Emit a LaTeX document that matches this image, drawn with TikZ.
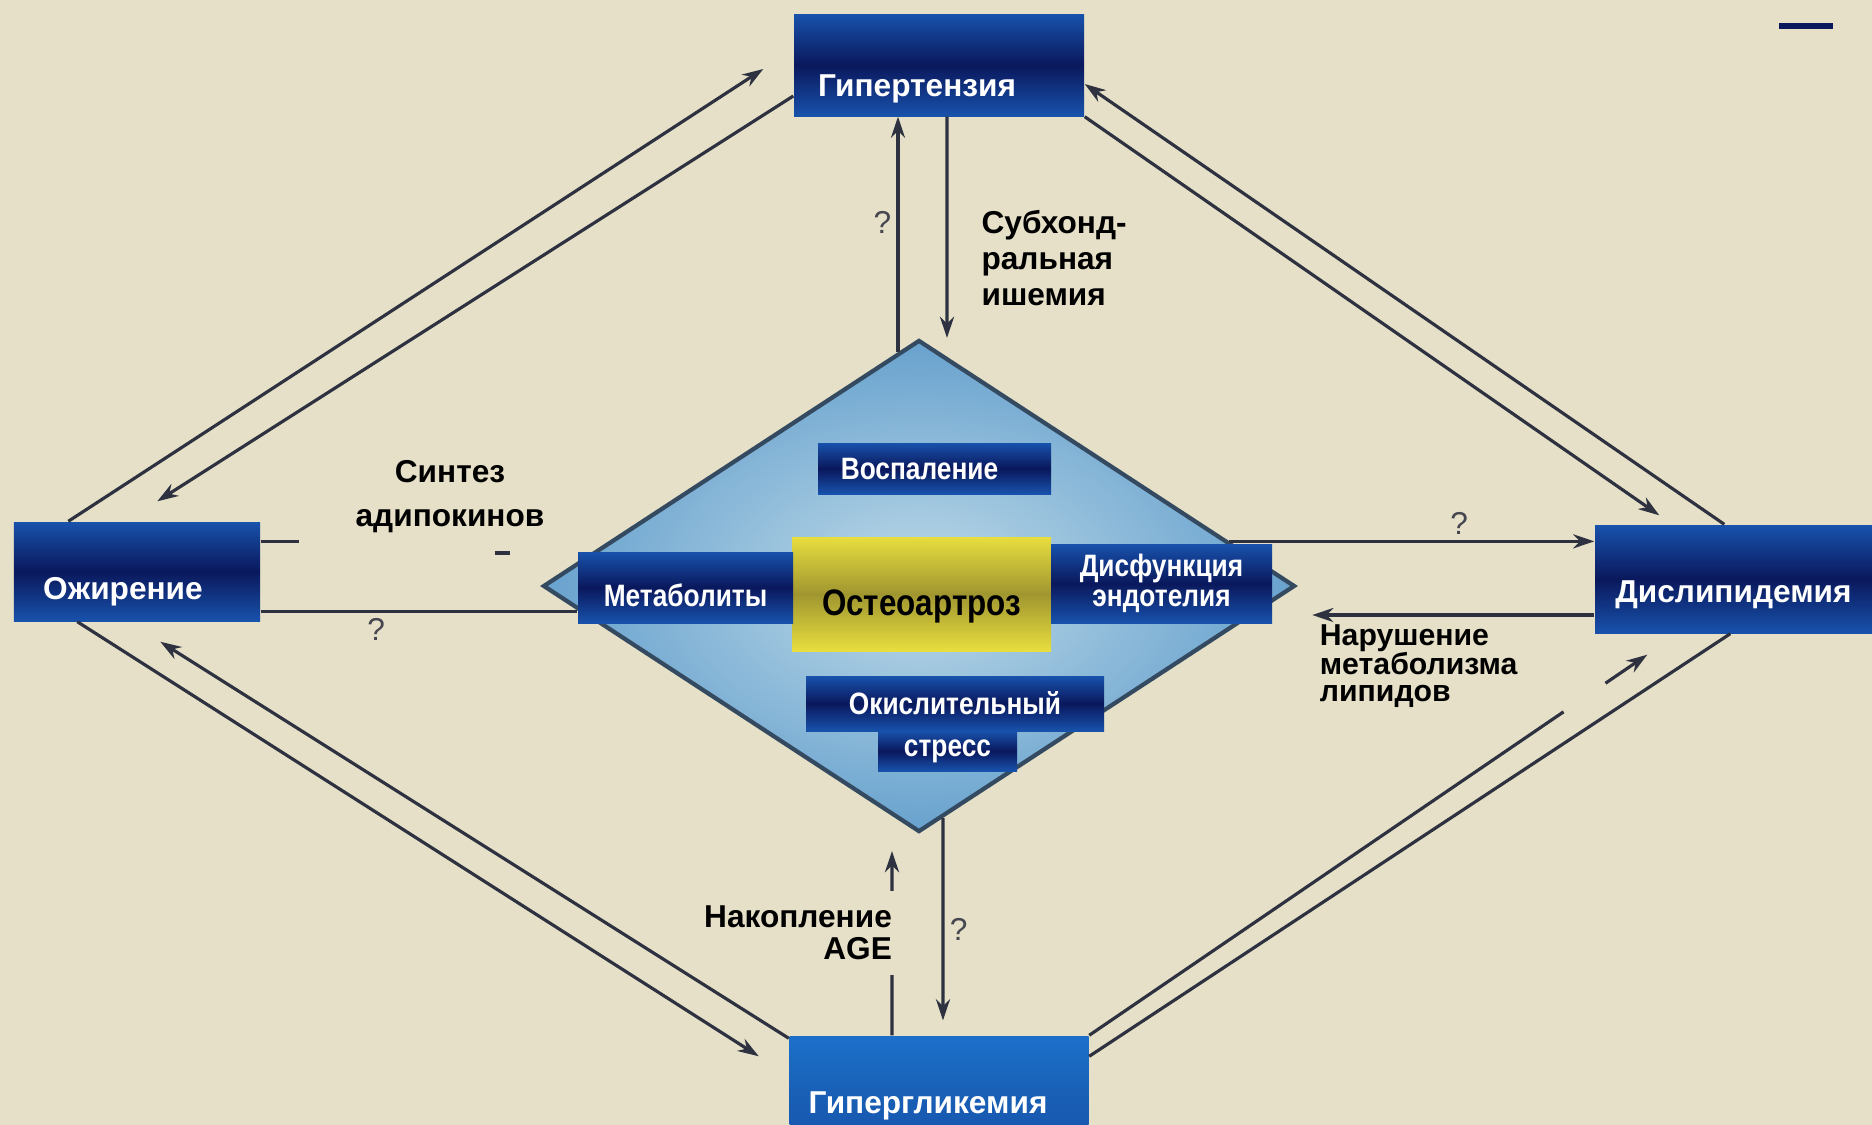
\documentclass[tikz,border=0pt]{standalone}
\usepackage{fontspec}
\setmainfont{Liberation Sans}
\newfontfamily\narrowsans[FakeStretch=0.85]{Liberation Sans}
\usepackage{tikz}
\usetikzlibrary{positioning,arrows.meta,calc,shapes.geometric}
\definecolor{bgCream}{RGB}{229,224,199}
\definecolor{boxBlue}{RGB}{24,82,172}
\definecolor{boxNavy}{RGB}{10,24,92}
\definecolor{boxBright}{RGB}{28,112,202}
\definecolor{diaLight}{RGB}{190,218,232}
\definecolor{diaDark}{RGB}{104,162,206}
\definecolor{diaEdge}{RGB}{52,74,96}
\definecolor{oaYellow}{RGB}{232,222,62}
\definecolor{oaOlive}{RGB}{160,150,48}
\definecolor{lineGray}{RGB}{46,50,64}
\definecolor{qGray}{RGB}{70,70,80}
\newcommand\tightlines{\lineskiplimit=0pt\lineskip=0.3pt\relax}

\begin{document}
\begin{tikzpicture}[
    >={Stealth[length=6pt,width=4pt]},
    outer box/.style={rectangle, top color=boxBlue, bottom color=boxBlue, middle color=boxNavy, text=white, font=\fontsize{9}{10}\selectfont\bfseries, text depth=0pt, inner sep=0pt},
    inner box/.style={rectangle, top color=boxBlue, bottom color=boxBlue, middle color=boxNavy, text=white, font=\narrowsans\fontsize{8.8}{8.5}\selectfont\bfseries, inner sep=0pt, align=center},
    conn/.style={draw=lineGray, line width=0.9pt},
    lbl/.style={font=\fontsize{9}{10.2}\selectfont\bfseries, text=black, inner sep=0pt},
    qmark/.style={font=\fontsize{9}{10}\selectfont, text=qGray, inner sep=1.5pt}
]
  \fill[bgCream] (0,0) rectangle (18.72,-11.25);
  \useasboundingbox (0,0) rectangle (18.72,-11.25);

  \node[outer box, minimum width=2.90cm, minimum height=1.02cm, text height=0.63cm] (hyp) at (9.39,-0.65) {Гипертензия\hspace*{0.44cm}};
  \node[outer box, minimum width=2.46cm, minimum height=0.99cm, text height=0.56cm] (ozh) at (1.37,-5.715) {Ожирение\hspace*{0.28cm}};
  \node[outer box, minimum width=2.77cm, minimum height=1.08cm, text height=0.47cm] (dys) at (17.335,-5.79) {Дислипидемия};
  \node[outer box, top color=boxBright, bottom color=boxBlue, middle color=boxBright!80!boxNavy, minimum width=2.99cm, minimum height=1.24cm, text height=0.31cm] (hgl) at (9.39,-10.98) {Гипергликемия\hspace*{0.22cm}};

  \node[diamond, draw=diaEdge, line width=1.2pt, inner color=diaLight, outer color=diaDark, minimum width=7.52cm, minimum height=4.92cm, inner sep=0pt] (oa) at (9.19,-5.86) {};

  \coordinate (endoTop) at ($(oa.east)!0.18!(oa.north)$);
  \draw[conn, ->] (endoTop) -- (endoTop -| dys.west) node[qmark, pos=0.63, above] {?};

  \node[inner box, minimum width=2.33cm, minimum height=0.51cm] (vos) at (9.345,-4.685) {Воспаление\hspace*{0.3cm}};
  \node[rectangle, top color=oaYellow, bottom color=oaYellow, middle color=oaOlive, text=black, font=\narrowsans\fontsize{10.5}{12}\selectfont\bfseries, minimum width=2.59cm, minimum height=1.14cm, inner sep=0pt, text height=0.42cm, text depth=0pt] (ost) at (9.215,-5.94) {Остеоартроз};
  \node[inner box, minimum width=2.15cm, minimum height=0.71cm, text height=0.38cm, text depth=0pt] (met) at (6.855,-5.875) {Метаболиты};
  \node[inner box, minimum width=2.21cm, minimum height=0.79cm] (dysf) at (11.615,-5.835) {Дисфункция\\эндотелия};
  \node[inner box, minimum width=2.98cm, minimum height=0.55cm] (oki) at (9.55,-7.035) {Окислительный};
  \node[inner box, minimum width=1.39cm, minimum height=0.40cm] (str) at (9.475,-7.51) {стресс};

  \draw[conn, ->] ([xshift=0.55cm]ozh.north west) -- ([xshift=-0.3cm, yshift=-0.04cm]hyp.west);
  \draw[conn, ->] ([yshift=-0.31cm]hyp.west) -- ([xshift=1.44cm, yshift=0.2cm]ozh.north west);
  \draw[conn, ->] ([xshift=1.3cm]dys.north west) -- ([yshift=-0.19cm]hyp.east);
  \draw[conn, ->] (hyp.south east) -- ([xshift=0.65cm, yshift=0.09cm]dys.north west);
  \draw[conn, ->] ([xshift=0.64cm]ozh.south west) -- ([xshift=-0.3cm, yshift=-0.21cm]hgl.north west);
  \draw[conn, ->] ([yshift=-0.03cm]hgl.north west) -- ([xshift=1.47cm, yshift=-0.2cm]ozh.south west);
  \draw[conn] ([yshift=-0.21cm]hgl.north east) -- ([xshift=1.36cm]dys.south west);
  \coordinate (lipTip) at ([xshift=0.53cm, yshift=-0.21cm]dys.south west);
  \draw[conn] (hgl.north east) -- ($(hgl.north east)!0.85!(lipTip)$);
  \draw[conn, ->] ($(hgl.north east)!0.925!(lipTip)$) -- (lipTip);

  \draw[conn, ->] ([xshift=-2.1mm, yshift=-1.4mm]oa.north) -- ([xshift=-2.1mm]oa.north |- hyp.south) node[qmark, pos=0.55, left] {?};
  \draw[conn, ->] ([xshift=0.8mm]hyp.south) -- ([xshift=2.8mm]oa.north) node[lbl, pos=0.64, right, xshift=0.33cm, align=left] {Субхонд-\\ральная\\ишемия};
  \draw[conn, ->] ([xshift=-4.7mm]hgl.north) -- ([xshift=-2.7mm, yshift=-1.7mm]oa.south) node[lbl, pos=0.556, anchor=east, xshift=0.05cm, fill=bgCream, inner xsep=1pt, inner ysep=0.15cm, align=right, font=\fontsize{9}{9.1}\selectfont\bfseries] {Накопление\\AGE};
  \draw[conn, ->] ([xshift=2.4mm, yshift=1.6mm]oa.south) -- ([xshift=0.4mm, yshift=1.5mm]hgl.north) node[qmark, pos=0.55, right] {?};

  \draw[conn] ([yshift=-0.4cm]ozh.east) -- ([yshift=-0.4cm]ozh.east -| met.west) node[qmark, pos=0.365, below] {?};
  \draw[conn] ([yshift=0.3cm]ozh.east) -- ++(0.38,0);
  \draw[conn] ([xshift=2.34cm, yshift=0.185cm]ozh.east) -- ++(0.15,0);
  \node[lbl, align=center, font=\fontsize{9}{12.5}\selectfont\bfseries] (syn) at (4.5,-4.97) {Синтез\\адипокинов};

  \draw[conn, ->] ([yshift=-0.36cm]dys.west) -- ++(-2.82,0) node[lbl, at end, anchor=north west, xshift=0.06cm, yshift=-0.08cm, align=left, font=\fontsize{8.6}{7.6}\selectfont\bfseries\tightlines] {Нарушение\\метаболизма\\липидов};

  \draw[boxNavy, line width=1.5pt] (17.79,-0.26) -- (18.33,-0.26);
\end{tikzpicture}
\end{document}
